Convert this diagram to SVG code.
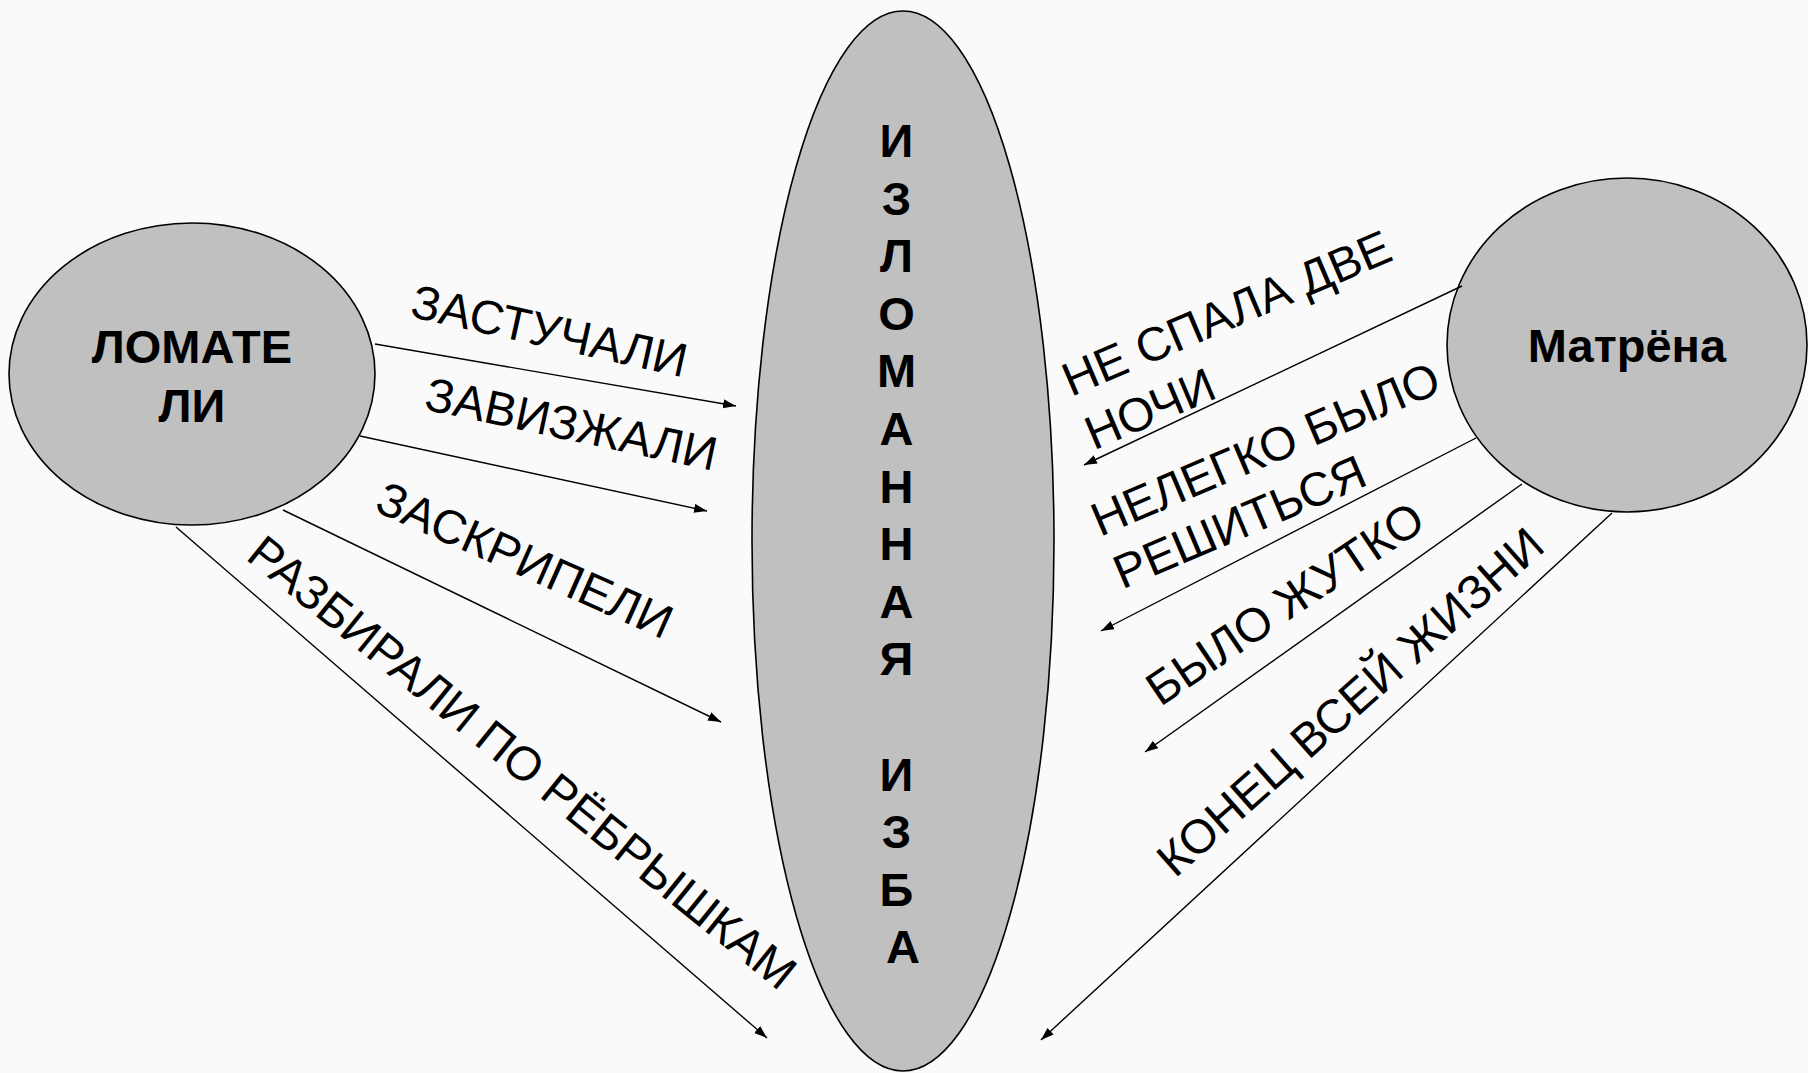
<svg xmlns="http://www.w3.org/2000/svg" width="1808" height="1073" viewBox="0 0 1808 1073">
  <defs>
    <marker id="arrow" markerUnits="userSpaceOnUse" markerWidth="14" markerHeight="10" refX="13" refY="4.5" orient="auto">
      <path d="M0,0 L13,4.5 L0,9 z" fill="#000"/>
    </marker>
    <style>
      .node { fill: #c0c0c0; stroke: #000; stroke-width: 1.6; }
      .bold { font-family: "Liberation Sans", Arial, sans-serif; font-weight: bold; font-size: 47px; fill: #000; text-anchor: middle; }
      .lbl { font-family: "Liberation Sans", Arial, sans-serif; font-size: 47.5px; fill: #000; }
      .mid { text-anchor: middle; }
      .conn line { stroke: #000; stroke-width: 1.4; marker-end: url(#arrow); }
    </style>
  </defs>
  <rect width="1808" height="1073" fill="#fafafa"/>

  <g id="node-izba">
    <ellipse class="node" cx="903" cy="541" rx="151" ry="530"/>
    <text class="bold">
      <tspan x="903" y="157">И</tspan>
      <tspan x="903" y="214.6">З</tspan>
      <tspan x="903" y="272.2">Л</tspan>
      <tspan x="903" y="329.8">О</tspan>
      <tspan x="903" y="387.4">М</tspan>
      <tspan x="903" y="445">А</tspan>
      <tspan x="903" y="502.6">Н</tspan>
      <tspan x="903" y="560.2">Н</tspan>
      <tspan x="903" y="617.8">А</tspan>
      <tspan x="903" y="675.4">Я</tspan>
      <tspan x="903" y="790.6">И</tspan>
      <tspan x="903" y="848.2">З</tspan>
      <tspan x="903" y="905.8">Б</tspan>
      <tspan x="903" y="963.4">А</tspan>
    </text>
  </g>

  <g id="node-lomateli">
    <ellipse class="node" cx="192" cy="374" rx="183" ry="151"/>
    <text class="bold"><tspan x="192" y="363">ЛОМАТЕ</tspan><tspan x="192" y="422">ЛИ</tspan></text>
  </g>

  <g id="node-matrena">
    <ellipse class="node" cx="1627" cy="345" rx="180" ry="167"/>
    <text class="bold" x="1627" y="362">Матрёна</text>
  </g>

  <g id="connectors" class="conn">
    <line x1="375" y1="344" x2="736" y2="406"/>
    <line x1="360" y1="436" x2="707" y2="511"/>
    <line x1="283" y1="510" x2="721" y2="722"/>
    <line x1="176" y1="527" x2="767" y2="1038"/>
    <line x1="1462" y1="286" x2="1084" y2="465"/>
    <line x1="1476" y1="438" x2="1101" y2="631"/>
    <line x1="1522" y1="484" x2="1145" y2="752"/>
    <line x1="1612" y1="513" x2="1041" y2="1040"/>
  </g>

  <g id="labels">
    <text class="lbl mid" transform="translate(546,347) rotate(12.5)">ЗАСТУЧАЛИ</text>
    <text class="lbl mid" transform="translate(568,440) rotate(12)">ЗАВИЗЖАЛИ</text>
    <text class="lbl mid" transform="translate(518,575) rotate(24)">ЗАСКРИПЕЛИ</text>
    <text class="lbl mid" transform="translate(512,775) rotate(39)">РАЗБИРАЛИ ПО РЁБРЫШКАМ</text>
    <text class="lbl" transform="translate(1071,397) rotate(-23)"><tspan x="0" y="0">НЕ СПАЛА ДВЕ</tspan><tspan x="0" y="58">НОЧИ</tspan></text>
    <text class="lbl" transform="translate(1100,537) rotate(-23)"><tspan x="0" y="0">НЕЛЕГКО БЫЛО</tspan><tspan x="0" y="57">РЕШИТЬСЯ</tspan></text>
    <text class="lbl mid" transform="translate(1294,617) rotate(-34)">БЫЛО ЖУТКО</text>
    <text class="lbl mid" transform="translate(1361,714) rotate(-41.5)">КОНЕЦ ВСЕЙ ЖИЗНИ</text>
  </g>
</svg>
